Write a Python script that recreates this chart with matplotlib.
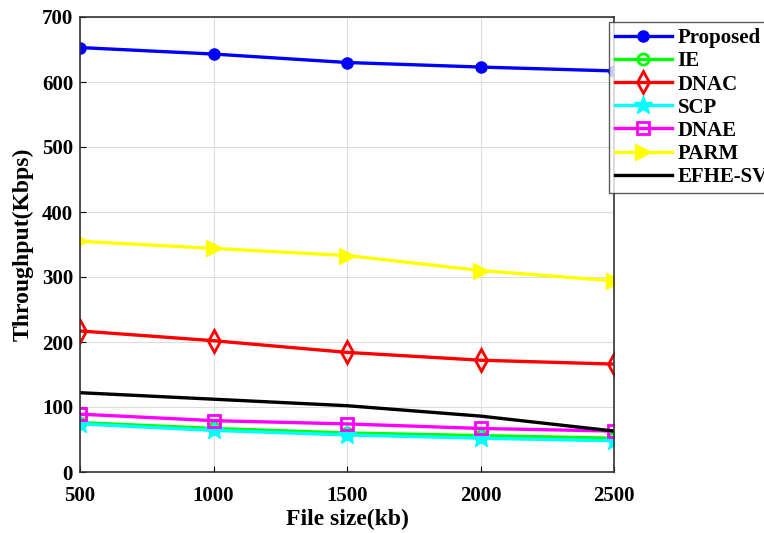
import matplotlib
matplotlib.use("Agg")
import matplotlib.pyplot as plt

file_size = [500, 1000, 1500, 2000, 2500]
proposed = [653, 643, 630, 623, 617]
ie = [76, 67, 60, 56, 52]
dnac = [217, 202, 184, 172, 166]
scp = [74, 64, 57, 52, 48]
dnae = [89, 79, 74, 67, 63]
parm = [355, 344, 333, 310, 294]
efhe = [122, 112, 102, 86, 63]

plt.rcParams['font.family'] = ['Liberation Serif', 'DejaVu Serif']
plt.rcParams['font.weight'] = 'bold'

fig = plt.figure(figsize=(7.64, 5.33), dpi=100)
ax = fig.add_axes([80/764, 1-472/533, (614-80)/764, (472-17)/533])

lw = 2.4
ax.plot(file_size, proposed, '-o', color='#0000ff', lw=lw, ms=8, mfc='#0000ff', label='Proposed')
ax.plot(file_size, ie, '-o', color='#00ff00', lw=lw, ms=8, mfc='none', mew=2, label='IE')
ax.plot(file_size, dnac, '-d', color='#ff0000', lw=lw, ms=11, mfc='none', mew=2, label='DNAC')
ax.plot(file_size, scp, '-*', color='#00ffff', lw=lw, ms=14, mfc='#00ffff', label='SCP')
ax.plot(file_size, dnae, '-s', color='#ff00ff', lw=lw, ms=8, mfc='none', mew=2, label='DNAE')
ax.plot(file_size, parm, '->', color='#ffff00', lw=lw, ms=12, mfc='#ffff00', label='PARM')
ax.plot(file_size, efhe, '-.', color='black', lw=lw, ms=2, linestyle='-', label='EFHE-SVM')

ax.set_xlim(500, 2500)
ax.set_ylim(0, 700)
ax.set_xticks(file_size)
ax.set_yticks(range(0, 701, 100))
ax.grid(True, color='#dddddd', lw=0.8)
ax.tick_params(labelsize=15, direction='in', length=4)
ax.tick_params(axis='x', pad=10)
ax.tick_params(axis='y', pad=5)
for lab in ax.get_xticklabels() + ax.get_yticklabels():
    lab.set_fontweight('bold')
ax.set_xlabel('File size(kb)', fontsize=17, fontweight='bold', labelpad=2)
ax.set_ylabel('Throughput(Kbps)', fontsize=17, fontweight='bold', labelpad=6)
for s in ax.spines.values():
    s.set_linewidth(1.2)
    s.set_color('#333333')

leg = fig.legend(loc='upper left', bbox_to_anchor=(609/764, 1-22/533), fontsize=15,
                 handlelength=2.7, frameon=True, fancybox=False, edgecolor='#333333',
                 borderpad=0.3, labelspacing=0.15, handletextpad=0.3, borderaxespad=0)
leg.get_frame().set_linewidth(1.0)
for t in leg.get_texts():
    t.set_fontweight('bold')

fig.savefig('out.png', dpi=100)
